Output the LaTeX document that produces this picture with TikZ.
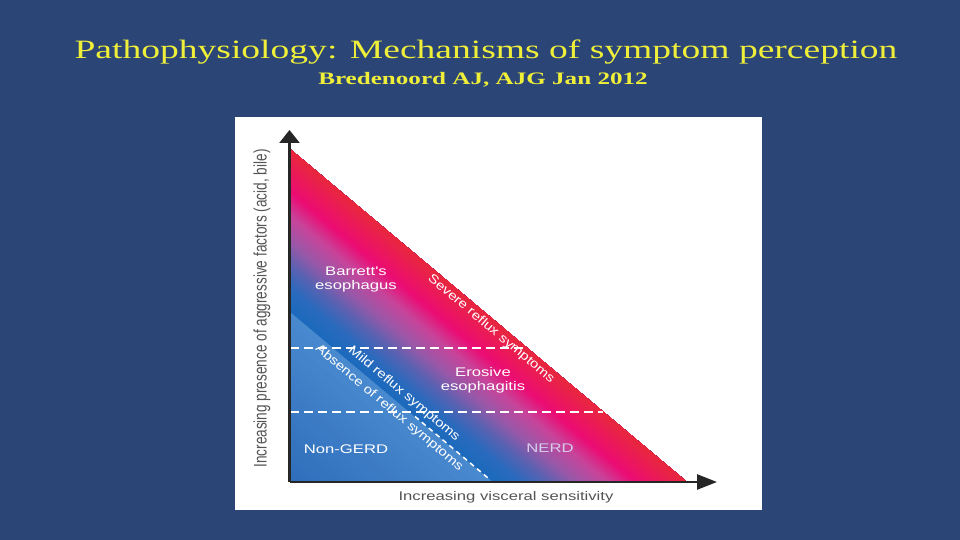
\documentclass[tikz,border=0pt]{standalone}
\usepackage{fontspec}
\setmainfont{Liberation Serif}
\newfontfamily\lsans{Liberation Sans}
\usetikzlibrary{arrows.meta}
\definecolor{bg}{HTML}{2B4577}
\definecolor{ttl}{HTML}{EFEF3A}
\definecolor{axg}{HTML}{555555}
\definecolor{axl}{HTML}{262626}
\definecolor{nerd}{HTML}{D8CEEC}
\definecolor{gA}{HTML}{2F6EBB}
\definecolor{gB}{HTML}{4A8ACF}
\definecolor{gC}{HTML}{1C6ABD}
\definecolor{gD}{HTML}{2A6ABD}
\definecolor{gE}{HTML}{5A62B2}
\definecolor{gF}{HTML}{9A58A8}
\definecolor{gG}{HTML}{C8449A}
\definecolor{gH}{HTML}{EC0C74}
\definecolor{gI}{HTML}{E8283C}
\begin{document}
\begin{tikzpicture}[x=1pt,y=1pt,inner sep=0pt,
  ttlstyle/.style={font=\fontsize{26.5}{30}\selectfont, text=ttl, xscale=1.417},
  substyle/.style={font=\bfseries\fontsize{17.5}{20}\selectfont, text=ttl, xscale=1.435},
  lab/.style={font=\lsans\fontsize{12.5}{14}\selectfont, text=white, align=center, xscale=1.3333},
  diaglab/.style={font=\lsans\fontsize{12.5}{14}\selectfont, text=white, rotate=-40, xscale=1.2},
  axlab/.style={font=\lsans\fontsize{12.5}{14}\selectfont, text=axg, xscale=1.3333},
  dashline/.style={draw=white, line width=1.6pt, dash pattern=on 9pt off 5pt},
  axisline/.style={draw=axl, line width=2.6pt}]
\useasboundingbox (0,0) rectangle (960,540);
\fill[bg] (0,0) rectangle (960,540);
% title
\node[ttlstyle] (title) at (486,488) {Pathophysiology: Mechanisms of symptom perception};
\node[substyle] (sub) at (483,460) {Bredenoord AJ, AJG Jan 2012};
% white panel
\fill[white] (235,30) rectangle (762,423);
% triangle coordinates
\coordinate (O) at (290,58);
\coordinate (T) at (290,391);
\coordinate (R) at (687,58);
% gradient fill
\begin{scope}
  \clip (O) -- (T) -- (R) -- cycle;
  \begin{scope}[shift={(O)}, rotate=50]
    \foreach \ta/\tb/\ca/\cb/\n in {0/0.511/gA/gB/30, 0.511/0.58/gC/gD/10, 0.58/0.65/gD/gE/20, 0.65/0.72/gE/gF/20, 0.72/0.80/gF/gG/20, 0.80/0.87/gG/gH/20, 0.87/1.0/gH/gI/30}{
      \foreach \k in {0,...,\n}{
        \pgfmathsetmacro\tt{\ta+(\tb-\ta)*\k/\n}
        \pgfmathtruncatemacro\pp{100*(1-\k/\n)}
        \fill[color=\ca!\pp!\cb] (\tt*255.1,-450) rectangle (300,450);
      }
    }
  \end{scope}
\end{scope}
% dashed lines
\coordinate (h1a) at (290,192);
\coordinate (h1b) at (527,192);
\coordinate (h2a) at (290,128);
\coordinate (h2b) at (603,128);
\draw[dashline] (h1a) -- (h1b);
\draw[dashline] (h2a) -- (h2b);
\coordinate (dga) at (415,123.5);
\coordinate (dgb) at (488,62);
\draw[draw=white, line width=1.5pt, dash pattern=on 5pt off 4pt] (dga) -- (dgb);
% axes
\coordinate (ax) at (289.5,58);
\coordinate (ytip) at (289.5,410);
\coordinate (xtip) at (717,58);
\draw[axisline, -{Triangle[length=13pt,width=20pt]}] (ax) -- (ytip);
\draw[axisline, -{Triangle[length=20pt,width=15pt]}] (ax) -- (xtip);
% axis labels
\node[axlab, font=\lsans\fontsize{13.6}{15}\selectfont, rotate=90] (ylab) at (262,231.5) {Increasing presence of aggressive factors (acid, bile)};
\node[axlab] (xlab) at (506,43) {Increasing visceral sensitivity};
% region labels
\node[lab] (barrett) at (356,260) {Barrett's\\esophagus};
\node[lab] (erosive) at (483,160) {Erosive\\esophagitis};
\node[lab] (nongerd) at (346,91) {Non-GERD};
\node[lab, text=nerd] (nerdlab) at (550,92) {NERD};
\node[diaglab] (severe) at (491,211) {Severe reflux symptoms};
\node[diaglab] (mild) at (404,146) {Mild reflux symptoms};
\node[diaglab] (absence) at (389,132) {Absence of reflux symptoms};
\end{tikzpicture}
\end{document}
